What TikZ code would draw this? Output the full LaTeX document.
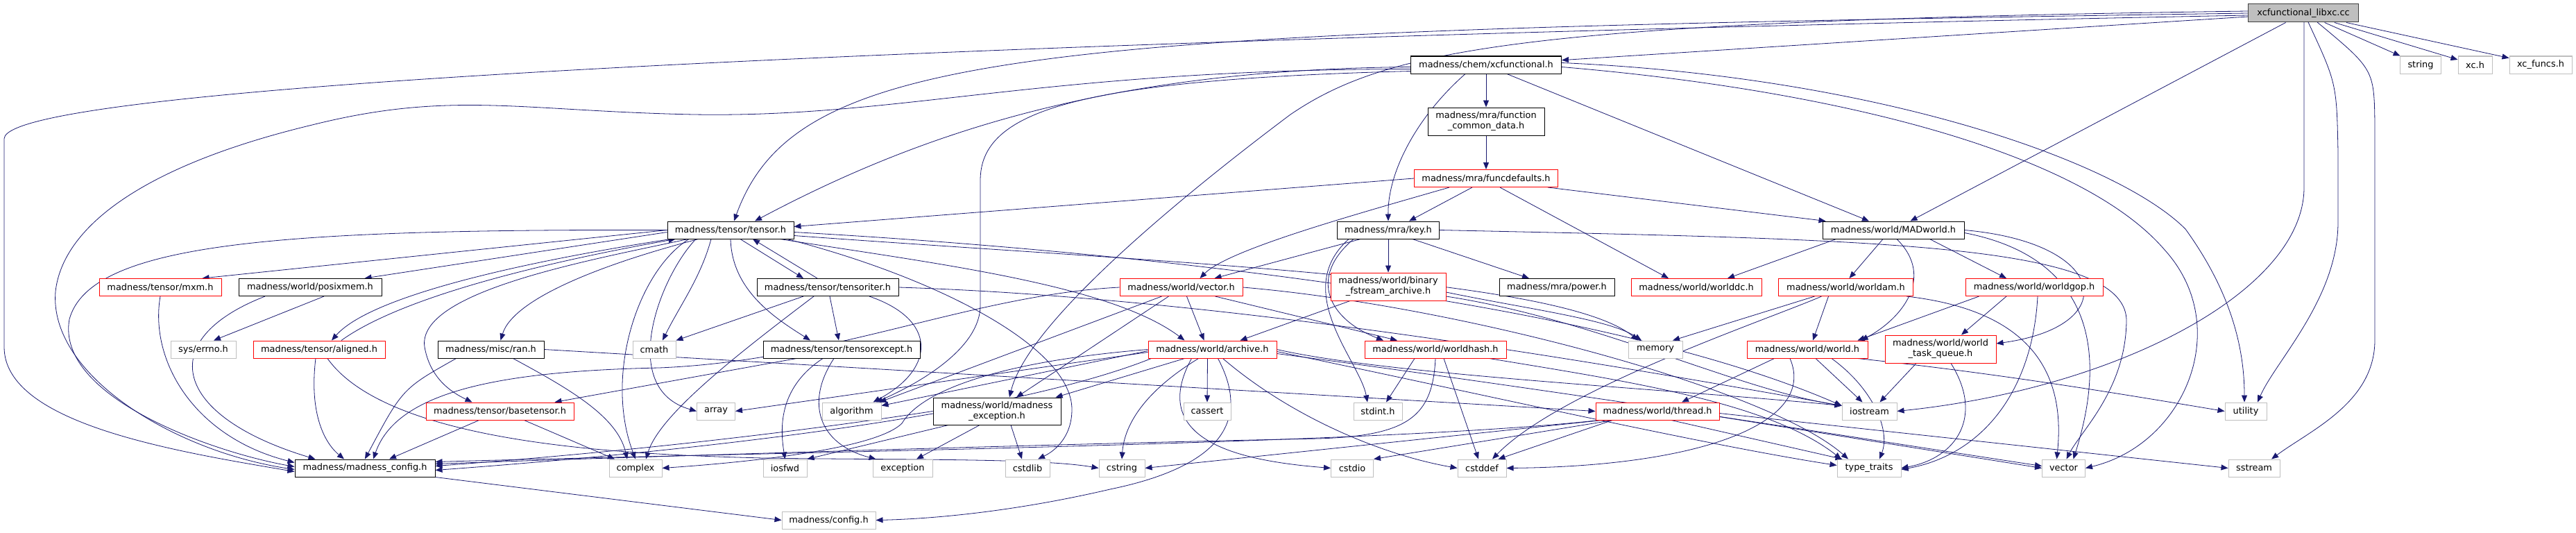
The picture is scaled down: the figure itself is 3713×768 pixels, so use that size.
\documentclass[tikz,border=0pt]{standalone}
\usepackage{fontspec}
\setmainfont{DejaVu Sans}
\usetikzlibrary{arrows.meta,calc}
\pgfdeclarelayer{bg}
\pgfsetlayers{bg,main}
\definecolor{edgeblue}{HTML}{191970}
\definecolor{extgray}{HTML}{BFBFBF}
\definecolor{rootfill}{HTML}{BFBFBF}
\definecolor{rootline}{HTML}{404040}
\tikzset{
  box/.style={draw, fill=white, inner sep=0pt, minimum height=25, line width=1pt,
    font=\fontsize{12.9}{15}\selectfont},
  nb/.style={box, draw=black},
  rb/.style={box, draw=red},
  gb/.style={box, draw=extgray},
  rootb/.style={box, draw=rootline, fill=rootfill, minimum height=26},
  two/.style={minimum height=40, align=center},
  ed/.style={draw=edgeblue, line width=0.8pt, -{Triangle[length=10pt,width=8pt]}}
}
\begin{document}
\begin{tikzpicture}[x=1pt,y=-1pt]
\useasboundingbox (0,0) rectangle (3713,768);
% ---------- nodes ----------
\node[rootb, minimum width=159] (libxc) at (3320,19) {xcfunctional\_libxc.cc};
\node[nb, minimum width=217] (xcfunc) at (2142,93.5) {madness/chem/xcfunctional.h};
\node[gb, minimum width=59] (string) at (3489,93.5) {string};
\node[gb, minimum width=49] (xch) at (3567.5,93.5) {xc.h};
\node[gb, minimum width=90] (xcfuncs) at (3662,93.5) {xc\_funcs.h};
\node[nb, two, minimum width=168] (fcd) at (2142,175) {madness/mra/function\\\_common\_data.h};
\node[rb, minimum width=207] (funcdef) at (2142,257) {madness/mra/funcdefaults.h};
\node[nb, minimum width=182] (tensor) at (1053,331.5) {madness/tensor/tensor.h};
\node[nb, minimum width=147] (key) at (2001,331.5) {madness/mra/key.h};
\node[nb, minimum width=204] (madworld) at (2729,331.5) {madness/world/MADworld.h};
\node[rb, minimum width=176] (mxm) at (231,414) {madness/tensor/mxm.h};
\node[nb, minimum width=206] (posixmem) at (447,414) {madness/world/posixmem.h};
\node[nb, minimum width=204] (tensoriter) at (1193,414) {madness/tensor/tensoriter.h};
\node[rb, minimum width=177] (vectorh) at (1702.5,414) {madness/world/vector.h};
\node[rb, two, minimum width=166] (binary) at (2001,413) {madness/world/binary\\\_fstream\_archive.h};
\node[nb, minimum width=166] (power) at (2244,414) {madness/mra/power.h};
\node[rb, minimum width=188] (worlddc) at (2445,414) {madness/world/worlddc.h};
\node[rb, minimum width=194] (worldam) at (2660.5,414) {madness/world/worldam.h};
\node[rb, minimum width=198] (worldgop) at (2932,414) {madness/world/worldgop.h};
\node[gb, minimum width=94] (syserrno) at (293,503.5) {sys/errno.h};
\node[rb, minimum width=190] (aligned) at (460,503.5) {madness/tensor/aligned.h};
\node[nb, minimum width=153] (ran) at (707.5,503.5) {madness/misc/ran.h};
\node[gb, minimum width=62] (cmath) at (943,503.5) {cmath};
\node[nb, minimum width=226] (tensorexcept) at (1213,503.5) {madness/tensor/tensorexcept.h};
\node[rb, minimum width=185] (archive) at (1747.5,503.5) {madness/world/archive.h};
\node[rb, minimum width=204] (worldhash) at (2069,503.5) {madness/world/worldhash.h};
\node[gb, minimum width=78] (memory) at (2386,503.5) {memory};
\node[rb, minimum width=174] (world) at (2605,503.5) {madness/world/world.h};
\node[rb, two, minimum width=160] (taskq) at (2797,503) {madness/world/world\\\_task\_queue.h};
\node[rb, minimum width=213] (basetensor) at (720.5,592.5) {madness/tensor/basetensor.h};
\node[gb, minimum width=55] (array) at (1032,592.5) {array};
\node[gb, minimum width=85] (algorithm) at (1227.5,592.5) {algorithm};
\node[nb, two, minimum width=184, minimum height=39] (mexc) at (1437,592.5) {madness/world/madness\\\_exception.h};
\node[gb, minimum width=68] (cassert) at (1740,592.5) {cassert};
\node[gb, minimum width=70] (stdint) at (1986,592.5) {stdint.h};
\node[rb, minimum width=178] (thread) at (2389,592.5) {madness/world/thread.h};
\node[gb, minimum width=79] (iostream) at (2694.5,592.5) {iostream};
\node[gb, minimum width=60] (utility) at (3237,592.5) {utility};
\node[nb, minimum width=202] (mconfig) at (526,674.5) {madness/madness\_config.h};
\node[gb, minimum width=76] (complex) at (916,674.5) {complex};
\node[gb, minimum width=63] (iosfwd) at (1131.5,674.5) {iosfwd};
\node[gb, minimum width=86] (exception) at (1301,674.5) {exception};
\node[gb, minimum width=64] (cstdlib) at (1481,674.5) {cstdlib};
\node[gb, minimum width=66] (cstring) at (1617,674.5) {cstring};
\node[gb, minimum width=61] (cstdio) at (1949,674.5) {cstdio};
\node[gb, minimum width=70] (cstddef) at (2136,674.5) {cstddef};
\node[gb, minimum width=92] (typetraits) at (2694,674.5) {type\_traits};
\node[gb, minimum width=62] (vector) at (2974.5,674.5) {vector};
\node[gb, minimum width=74] (sstream) at (3249,674.5) {sstream};
\node[gb, minimum width=135] (config) at (1194.5,749.5) {madness/config.h};
% ---------- edges ----------
\begin{pgfonlayer}{bg}
% libxc
\draw[ed] (libxc) -- (xcfunc);
\draw[ed] (libxc) -- (madworld);
\draw[ed] (libxc) -- (string);
\draw[ed] (libxc) -- (xch);
\draw[ed] (libxc) -- (xcfuncs);
\draw[ed] (libxc.west) .. controls (1500,45) and (1150,65) .. ($(tensor.north)+(5,0)$);
\draw[ed] ($(libxc.west)+(0,3)$) .. controls (1800,50) and (6,110) .. (6,200) -- (6,500) .. controls (6,610) and (250,650) .. ($(mconfig.west)+(0,5)$);
\draw[ed] ($(libxc.west)+(0,-3)$) .. controls (2200,30) and (2000,70) .. (1860,165) .. controls (1680,300) and (1480,470) .. ($(mexc.north)+(18,0)$);
\draw[ed] (3321,32) -- (3321,270) .. controls (3321,420) and (3050,560) .. (iostream.east);
\draw[ed] (3327,32) .. controls (3368,120) .. (3370,220) -- (3370,320) .. controls (3370,430) and (3280,520) .. ($(utility.north)+(17,0)$);
\draw[ed] (3340,32) .. controls (3422,100) .. (3423,180) -- (3423,490) .. controls (3423,580) and (3330,620) .. ($(sstream.north)+(25,0)$);
% xcfunctional.h
\draw[ed] (xcfunc) -- (fcd);
\draw[ed] ($(xcfunc.south)+(-30,0)$) .. controls (2040,170) and (2000,250) .. (key.north);
\draw[ed] ($(xcfunc.south)+(30,0)$) -- ($(madworld.north)+(-35,0)$);
\draw[ed] ($(xcfunc.west)+(0,3)$) .. controls (1600,100) and (1330,190) .. ($(tensor.north)+(35,0)$);
\draw[ed] ($(xcfunc.west)+(0,6)$) .. controls (1500,100) and (1300,170) .. (1000,165) .. controls (750,160) and (650,130) .. (450,180) .. controls (200,240) and (90,330) .. (80,420) .. controls (70,540) and (250,650) .. ($(mconfig.west)+(0,2)$);
\draw[ed] ($(xcfunc.west)+(0,9)$) .. controls (1550,115) and (1413,160) .. (1413,260) -- (1413,440) .. controls (1413,500) and (1330,550) .. ($(algorithm.north east)+(-8,0)$);
\draw[ed] ($(xcfunc.east)+(0,-3)$) .. controls (2700,110) and (3050,230) .. (3150,330) .. controls (3215,420) and (3235,500) .. ($(utility.north)+(-2,0)$);
\draw[ed] ($(xcfunc.east)+(0,3)$) .. controls (2650,130) and (3000,220) .. (3120,360) .. controls (3220,470) and (3150,640) .. (vector.east);
% function_common_data.h
\draw[ed] (fcd) -- (funcdef);
% funcdefaults.h
\draw[ed] (funcdef.west) -- ($(tensor.east)+(0,-5)$);
\draw[ed] ($(funcdef.south)+(-20,0)$) -- ($(key.north)+(30,0)$);
\draw[ed] ($(funcdef.south)+(20,0)$) -- ($(worlddc.north)+(-40,0)$);
\draw[ed] ($(funcdef.south east)+(-15,0)$) -- ($(madworld.north west)+(5,0)$);
\draw[ed] ($(funcdef.south)+(-53,0)$) .. controls (1950,310) and (1770,360) .. ($(vectorh.north)+(27,0)$);
% key.h
\draw[ed] ($(key.south)+(-40,0)$) -- ($(vectorh.north)+(48,0)$);
\draw[ed] (key) -- (binary);
\draw[ed] ($(key.south)+(35,0)$) -- ($(power.north)+(-40,0)$);
\draw[ed] ($(key.south)+(-50,0)$) .. controls (1885,400) and (1915,460) .. ($(worldhash.north)+(-75,0)$);
\draw[ed] ($(key.south)+(-57,0)$) .. controls (1860,420) and (1960,520) .. ($(stdint.north)+(-15,0)$);
\draw[ed] (key.east) .. controls (2700,345) and (3060,350) .. (3065,460) .. controls (3065,560) and (3000,620) .. ($(vector.north)+(4,0)$);
% tensor.h
\draw[ed] (tensor.west) -- ($(mxm.north east)+(-28,0)$);
\draw[ed] ($(tensor.west)+(0,3)$) -- ($(posixmem.north east)+(-25,0)$);
\draw[ed] ($(tensor.south west)+(5,0)$) .. controls (800,370) and (540,420) .. ($(aligned.north)+(18,0)$);
\draw[ed] ($(aligned.north)+(32,0)$) .. controls (590,420) and (830,370) .. ($(tensor.south west)+(12,0)$);
\draw[ed] ($(tensor.south west)+(30,0)$) .. controls (850,375) and (600,420) .. (612,500) .. controls (620,545) and (650,565) .. ($(basetensor.north)+(-40,0)$);
\draw[ed] ($(tensor.south west)+(45,0)$) .. controls (870,380) and (740,430) .. ($(ran.north)+(14,0)$);
\draw[ed] ($(tensor.south)+(-60,0)$) .. controls (920,390) and (870,540) .. (complex.north);
\draw[ed] ($(tensor.south)+(-50,0)$) .. controls (950,400) and (890,560) .. (array.west);
\draw[ed] ($(tensor.south)+(-28,0)$) .. controls (1010,400) and (980,440) .. ($(cmath.north)+(12,0)$);
\draw[ed] ($(tensor.south)+(14,0)$) -- ($(tensoriter.north)+(-35,0)$);
\draw[ed] ($(tensoriter.north)+(-15,0)$) -- ($(tensor.south)+(32,0)$);
\draw[ed] (tensor.south) .. controls (1055,420) and (1120,460) .. ($(tensorexcept.north)+(-45,0)$);
\draw[ed] (tensor.west) .. controls (400,330) and (130,350) .. (100,460) .. controls (80,570) and (300,650) .. ($(mconfig.west)+(0,-2)$);
\draw[ed] ($(tensor.south east)+(-20,0)$) .. controls (1350,380) and (1600,410) .. ($(archive.north)+(-40,0)$);
\draw[ed] ($(tensor.south east)+(-10,0)$) .. controls (1350,400) and (1545,500) .. (1545,590) .. controls (1545,630) and (1520,650) .. ($(cstdlib.north)+(15,0)$);
\draw[ed] ($(tensor.east)+(0,8)$) .. controls (1700,380) and (2250,400) .. ($(memory.north)+(-25,0)$);
\draw[ed] ($(tensor.east)+(0,3)$) .. controls (1600,360) and (2300,430) .. ($(iostream.west)+(0,-8)$);
% aligned.h
\draw[ed] ($(aligned.south)+(-5,0)$) .. controls (445,600) and (470,640) .. ($(mconfig.north)+(-30,0)$);
\draw[ed] ($(aligned.south)+(12,0)$) .. controls (560,640) and (900,655) .. (1100,660) .. controls (1300,663) and (1500,660) .. (cstring.west);
% mxm.h, posixmem.h
\draw[ed] (mxm.south) .. controls (215,520) and (280,630) .. ($(mconfig.west)+(0,-8)$);
\draw[ed] ($(posixmem.south)+(-65,0)$) .. controls (220,490) and (250,600) .. ($(mconfig.north west)+(30,0)$);
\draw[ed] ($(posixmem.south)+(20,0)$) -- ($(syserrno.north)+(15,0)$);
% ran.h
\draw[ed] ($(ran.south)+(-50,0)$) .. controls (580,560) .. (mconfig.north);
\draw[ed] ($(ran.south)+(32,0)$) .. controls (820,560) and (890,600) .. ($(complex.north)+(-12,0)$);
\draw[ed] (ran.east) -- (thread.west);
% basetensor.h
\draw[ed] ($(basetensor.south)+(-30,0)$) -- ($(mconfig.north)+(35,0)$);
\draw[ed] ($(basetensor.south)+(35,0)$) -- ($(complex.north)+(-30,0)$);
% tensoriter.h
\draw[ed] ($(tensoriter.south)+(-35,0)$) -- (cmath.north east);
\draw[ed] ($(tensoriter.south)+(-20,0)$) .. controls (1050,520) and (950,600) .. ($(complex.north)+(15,0)$);
\draw[ed] ($(tensoriter.south)+(3,0)$) -- ($(tensorexcept.north)+(-4,0)$);
\draw[ed] ($(tensoriter.south)+(60,0)$) .. controls (1350,460) and (1350,530) .. ($(algorithm.north east)+(-12,0)$);
\draw[ed] (tensoriter.east) .. controls (1800,430) and (2400,540) .. ($(iostream.west)+(0,-8)$);
% tensorexcept.h
\draw[ed] ($(tensorexcept.south)+(-65,0)$) -- ($(basetensor.north east)+(-28,0)$);
\draw[ed] ($(tensorexcept.south)+(-27,0)$) .. controls (1120,560) and (1125,620) .. (iosfwd.north);
\draw[ed] ($(tensorexcept.south)+(-11,0)$) .. controls (1160,580) and (1180,640) .. ($(exception.north west)+(5,0)$);
% madness_exception.h
\draw[ed] (mexc.west) .. controls (1100,630) and (850,655) .. ($(mconfig.east)+(0,-3)$);
\draw[ed] ($(mexc.south)+(-70,0)$) -- (iosfwd.north east);
\draw[ed] ($(mexc.south)+(-25,0)$) -- ($(exception.north)+(20,0)$);
\draw[ed] ($(mexc.south)+(20,0)$) -- ($(cstdlib.north)+(-8,0)$);
% vector.h (madness)
\draw[ed] ($(vectorh.south)+(8,0)$) -- ($(archive.north)+(-12,0)$);
\draw[ed] (vectorh.west) .. controls (1400,425) and (1200,520) .. (950,530) .. controls (700,535) and (570,570) .. ($(mconfig.north)+(12,0)$);
\draw[ed] ($(vectorh.south)+(-28,0)$) -- ($(algorithm.north east)+(-3,0)$);
\draw[ed] ($(vectorh.south)+(-18,0)$) -- ($(mexc.north)+(28,0)$);
\draw[ed] ($(vectorh.south east)+(-40,0)$) -- ($(worldhash.north)+(-55,0)$);
\draw[ed] (vectorh.east) .. controls (2100,440) and (2550,560) .. ($(typetraits.north)+(-30,0)$);
% archive.h
\draw[ed] ($(archive.south)+(-40,0)$) -- ($(mexc.north east)+(-8,0)$);
\draw[ed] ($(archive.south)+(-7,0)$) -- (cassert.north);
\draw[ed] ($(archive.south)+(-20,0)$) .. controls (1640,570) and (1620,620) .. (cstring.north);
\draw[ed] ($(archive.south)+(-30,0)$) .. controls (1650,640) and (1800,665) .. (cstdio.west);
\draw[ed] ($(archive.south)+(15,0)$) .. controls (1860,600) and (1990,655) .. (cstddef.west);
\draw[ed] ($(archive.south)+(8,0)$) .. controls (1800,600) and (1770,670) .. (1600,705) .. controls (1450,740) and (1330,748) .. (config.east);
\draw[ed] (archive.west) .. controls (1450,520) and (1330,560) .. (1300,610) .. controls (1260,650) and (1050,668) .. (complex.east);
\draw[ed] ($(archive.west)+(0,4)$) -- (array.east);
\draw[ed] ($(archive.west)+(0,2)$) -- ($(algorithm.east)+(0,-8)$);
\draw[ed] ($(archive.south west)+(5,0)$) .. controls (1450,600) and (1000,650) .. ($(mconfig.east)+(0,3)$);
\draw[ed] (archive.east) .. controls (2000,540) and (2400,560) .. ($(iostream.west)+(0,-8)$);
\draw[ed] ($(archive.east)+(0,3)$) .. controls (2100,560) and (2450,640) .. ($(typetraits.west)+(0,-4)$);
\draw[ed] ($(archive.east)+(0,6)$) .. controls (2300,570) and (2800,650) .. ($(vector.west)+(0,-3)$);
% binary_fstream_archive.h
\draw[ed] ($(binary.south)+(-55,0)$) -- ($(archive.north)+(40,0)$);
\draw[ed] ($(binary.east)+(0,8)$) .. controls (2200,445) and (2320,460) .. ($(memory.north)+(-20,0)$);
\draw[ed] ($(binary.east)+(0,14)$) .. controls (2300,460) and (2500,560) .. ($(iostream.west)+(0,-8)$);
% worldhash.h
\draw[ed] ($(worldhash.south)+(-30,0)$) -- ($(stdint.north)+(12,0)$);
\draw[ed] ($(worldhash.south)+(12,0)$) -- ($(cstddef.north)+(-5,0)$);
\draw[ed] (worldhash.south) .. controls (2065,600) and (2030,628) .. (1900,632) .. controls (1500,640) and (800,662) .. ($(mconfig.east)+(0,-6)$);
\draw[ed] ($(worldhash.south east)+(-25,0)$) .. controls (2350,550) and (2550,580) .. ($(typetraits.north)+(-40,0)$);
% thread.h
\draw[ed] ($(thread.south west)+(25,0)$) -- (cstdio.north east);
\draw[ed] ($(thread.south)+(-65,0)$) -- ($(cstddef.north east)+(-12,0)$);
\draw[ed] ($(thread.south west)+(10,0)$) -- (cstring.east);
\draw[ed] ($(thread.south west)+(5,0)$) .. controls (2000,640) and (1100,652) .. ($(mconfig.east)+(0,-9)$);
\draw[ed] ($(thread.south)+(20,0)$) -- ($(typetraits.north west)+(8,0)$);
\draw[ed] ($(thread.east)+(0,8)$) -- (vector.west);
\draw[ed] ($(thread.east)+(0,3)$) -- (sstream.west);
% world.h
\draw[ed] ($(world.south)+(12,0)$) -- ($(iostream.north)+(-10,0)$);
\draw[ed] ($(world.south)+(35,0)$) .. controls (2700,560) and (2725,620) .. ($(typetraits.north)+(15,0)$);
\draw[ed] ($(world.south west)+(40,0)$) -- ($(thread.north)+(35,0)$);
\draw[ed] ($(world.south east)+(-15,0)$) .. controls (2900,540) and (3100,575) .. (utility.west);
\draw[ed] ($(world.south)+(-25,0)$) .. controls (2620,610) and (2450,672) .. (cstddef.east);
% world_task_queue.h
\draw[ed] ($(taskq.south)+(-35,0)$) -- ($(iostream.north)+(15,0)$);
\draw[ed] ($(taskq.south)+(15,0)$) .. controls (2860,600) and (2820,660) .. (typetraits.east);
% worldam.h
\draw[ed] ($(worldam.south)+(-45,0)$) -- ($(memory.north)+(25,0)$);
\draw[ed] ($(worldam.south)+(-25,0)$) -- ($(world.north)+(8,0)$);
\draw[ed] ($(worldam.south east)+(-10,0)$) .. controls (2950,450) and (2975,560) .. ($(vector.north)+(-10,0)$);
\draw[ed] ($(worldam.south)+(-35,0)$) .. controls (2550,460) and (2250,560) .. ($(cstddef.north)+(15,0)$);
% worldgop.h
\draw[ed] ($(worldgop.south west)+(20,0)$) -- ($(world.north east)+(-15,0)$);
\draw[ed] ($(worldgop.south)+(-40,0)$) -- ($(taskq.north)+(30,0)$);
\draw[ed] ($(worldgop.south)+(5,0)$) .. controls (2930,560) and (2860,655) .. ($(typetraits.east)+(0,2)$);
% MADworld.h
\draw[ed] ($(madworld.south west)+(20,0)$) -- ($(worlddc.north)+(45,0)$);
\draw[ed] ($(madworld.south)+(-15,0)$) -- ($(worldam.north)+(5,0)$);
\draw[ed] ($(madworld.south east)+(-50,0)$) -- ($(worldgop.north)+(-40,0)$);
\draw[ed] ($(madworld.south)+(5,0)$) .. controls (2790,400) and (2740,460) .. ($(world.north east)+(-10,0)$);
\draw[ed] (madworld.east) .. controls (3040,350) and (3060,470) .. ($(taskq.east)+(0,-8)$);
\draw[ed] ($(madworld.east)+(0,4)$) .. controls (3010,370) and (3040,500) .. ($(vector.north)+(14,0)$);
% madness_config.h
\draw[ed] (mconfig.south east) -- (config.west);
\end{pgfonlayer}
\end{tikzpicture}
\end{document}
